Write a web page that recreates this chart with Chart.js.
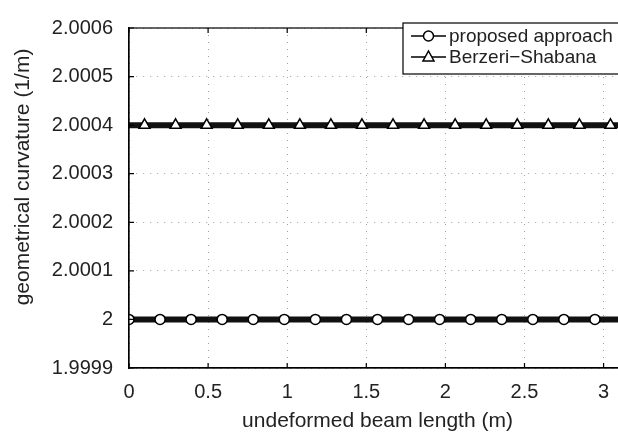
<!DOCTYPE html>
<html>
<head>
<meta charset="utf-8">
<script src="https://cdn.jsdelivr.net/npm/chart.js@4.4.0/dist/chart.umd.min.js"></script>
<style>
  html, body { margin: 0; padding: 0; background: #fff; overflow: hidden; }
  #wrap { width: 640px; height: 438px; }
</style>
</head>
<body>
<div id="wrap"><canvas id="curv" width="640" height="438"></canvas></div>
<script>
// beam positions (m), sampled every pi/32
var beamX = [0, 0.0982, 0.1963, 0.2945, 0.3927, 0.4909, 0.5890, 0.6872, 0.7854, 0.8836,
             0.9817, 1.0799, 1.1781, 1.2763, 1.3744, 1.4726, 1.5708, 1.6690, 1.7671, 1.8653,
             1.9635, 2.0617, 2.1598, 2.2580, 2.3562, 2.4544, 2.5525, 2.6507, 2.7489, 2.8471,
             2.9452, 3.0434, 3.1416];
var proposedCurv = [2, 2, 2, 2, 2, 2, 2, 2, 2, 2, 2, 2, 2, 2, 2, 2, 2,
                    2, 2, 2, 2, 2, 2, 2, 2, 2, 2, 2, 2, 2, 2, 2, 2];
var berzeriCurv = [2.0004, 2.0004, 2.0004, 2.0004, 2.0004, 2.0004, 2.0004, 2.0004, 2.0004,
                   2.0004, 2.0004, 2.0004, 2.0004, 2.0004, 2.0004, 2.0004, 2.0004, 2.0004,
                   2.0004, 2.0004, 2.0004, 2.0004, 2.0004, 2.0004, 2.0004, 2.0004, 2.0004,
                   2.0004, 2.0004, 2.0004, 2.0004, 2.0004, 2.0004];
var seriesNames = ['proposed approach', 'Berzeri\u2212Shabana'];
var xTicks = [0, 0.5, 1, 1.5, 2, 2.5, 3];
var xTickLabels = ['0', '0.5', '1', '1.5', '2', '2.5', '3'];
var yTicks = [1.9999, 2, 2.0001, 2.0002, 2.0003, 2.0004, 2.0005, 2.0006];
var yTickLabels = ['1.9999', '2', '2.0001', '2.0002', '2.0003', '2.0004', '2.0005', '2.0006'];

var FONT = 'Liberation Sans, Arial, Helvetica, sans-serif';

function toPoints(xs, ys) {
	var pts = [];
	for (var i in xs) {
		pts.push({x: xs[i], y: ys[i]});
	}
	return pts;
}

function drawMarker(ctx, style, x, y) {
	ctx.save();
	ctx.fillStyle = '#fff';
	ctx.strokeStyle = '#000';
	ctx.lineWidth = 1.5;
	ctx.beginPath();
	if (style === 'circle') {
		ctx.arc(x, y, 5, 0, Math.PI * 2);
	} else {
		ctx.moveTo(x, y - 6);
		ctx.lineTo(x + 5.5, y + 4);
		ctx.lineTo(x - 5.5, y + 4);
		ctx.closePath();
	}
	ctx.fill();
	ctx.stroke();
	ctx.restore();
}

// frame, inward ticks, y label and legend box
var framePlugin = {
	id: 'frame',
	afterDraw: function(chart) {
		var ctx = chart.ctx;
		var a = chart.chartArea;
		var xs = chart.scales.x, ys = chart.scales.y;
		ctx.save();
		ctx.strokeStyle = '#000';
		ctx.lineWidth = 1.2;
		ctx.strokeRect(a.left, a.top, a.right - a.left, a.bottom - a.top);
		ctx.beginPath();
		xTicks.forEach(function(v) {
			var px = xs.getPixelForValue(v);
			ctx.moveTo(px, a.bottom); ctx.lineTo(px, a.bottom - 5);
			ctx.moveTo(px, a.top); ctx.lineTo(px, a.top + 5);
		});
		yTicks.forEach(function(v) {
			var py = ys.getPixelForValue(v);
			ctx.moveTo(a.left, py); ctx.lineTo(a.left + 5, py);
			ctx.moveTo(a.right, py); ctx.lineTo(a.right - 5, py);
		});
		ctx.stroke();

		// y axis title
		ctx.fillStyle = '#222';
		ctx.font = '21px ' + FONT;
		ctx.textAlign = 'center';
		ctx.textBaseline = 'middle';
		ctx.translate(23, 177);
		ctx.rotate(-Math.PI / 2);
		ctx.fillText('geometrical curvature (1/m)', 0, 0);
		ctx.restore();

		// legend
		ctx.save();
		var lx = 403, ly = 23, lw = 260, lh = 51;
		ctx.fillStyle = '#fff';
		ctx.fillRect(lx, ly, lw, lh);
		ctx.strokeStyle = '#000';
		ctx.lineWidth = 1.2;
		ctx.strokeRect(lx, ly, lw, lh);
		var rows = [{y: 36, style: 'circle'}, {y: 57, style: 'triangle'}];
		ctx.font = '19px ' + FONT;
		ctx.textAlign = 'left';
		ctx.textBaseline = 'middle';
		rows.forEach(function(r, i) {
			ctx.strokeStyle = '#000';
			ctx.lineWidth = 1.5;
			ctx.beginPath();
			ctx.moveTo(411, r.y); ctx.lineTo(446, r.y);
			ctx.stroke();
			drawMarker(ctx, r.style, 428.5, r.y);
			ctx.fillStyle = '#222';
			ctx.fillText(seriesNames[i], 449, r.y + 1);
		});
		ctx.restore();
	}
};

var chartdata = {
	datasets: [
		{
			label: seriesNames[0],
			data: toPoints(beamX, proposedCurv),
			borderColor: '#111',
			borderWidth: 6,
			backgroundColor: '#fff',
			pointStyle: 'circle',
			pointRadius: function(c) { return c.dataIndex % 2 === 0 ? 5 : 0; },
			pointBorderWidth: 1.5,
			pointBorderColor: '#000',
			pointBackgroundColor: '#fff',
			pointHoverRadius: 0
		},
		{
			label: seriesNames[1],
			data: toPoints(beamX, berzeriCurv),
			borderColor: '#111',
			borderWidth: 6,
			backgroundColor: '#fff',
			pointStyle: 'triangle',
			pointRadius: function(c) { return c.dataIndex % 2 === 1 ? 6.3 : 0; },
			pointBorderWidth: 1.5,
			pointBorderColor: '#000',
			pointBackgroundColor: '#fff',
			pointHoverRadius: 0
		}
	]
};

var curvChart = new Chart(document.getElementById('curv'), {
	type: 'line',
	data: chartdata,
	options: {
		responsive: false,
		animation: false,
		devicePixelRatio: 1,
		layout: { padding: { left: 0, top: 16, right: 14, bottom: 0 } },
		plugins: { legend: { display: false }, tooltip: { enabled: false } },
		elements: { line: { tension: 0 } },
		scales: {
			x: {
				type: 'linear',
				min: 0,
				max: 3.1416,
				afterFit: function(s) { s.height = 70; },
				afterBuildTicks: function(s) { s.ticks = xTicks.map(function(v) { return {value: v}; }); },
				ticks: {
					color: '#222',
					font: { family: FONT, size: 20 },
					padding: 12,
					maxRotation: 0,
					callback: function(v, i) { return xTickLabels[i]; }
				},
				grid: { color: '#a0a0a0', drawTicks: false, lineWidth: 1 },
				border: { display: true, color: '#000', width: 1.2, dash: [1, 6] },
				title: {
					display: true,
					text: 'undeformed beam length (m)',
					color: '#222',
					font: { family: FONT, size: 21 },
					padding: { top: 0, bottom: 4 }
				}
			},
			y: {
				type: 'linear',
				min: 1.9999,
				max: 2.0006,
				afterFit: function(s) { s.width = 129; },
				afterBuildTicks: function(s) { s.ticks = yTicks.map(function(v) { return {value: v}; }); },
				ticks: {
					color: '#222',
					font: { family: FONT, size: 20 },
					padding: 16,
					callback: function(v, i) { return yTickLabels[i]; }
				},
				grid: { color: '#a0a0a0', drawTicks: false, lineWidth: 1 },
				border: { display: true, color: '#000', width: 1.2, dash: [1, 6] },
				title: { display: false }
			}
		}
	},
	plugins: [framePlugin]
});
</script>
</body>
</html>
